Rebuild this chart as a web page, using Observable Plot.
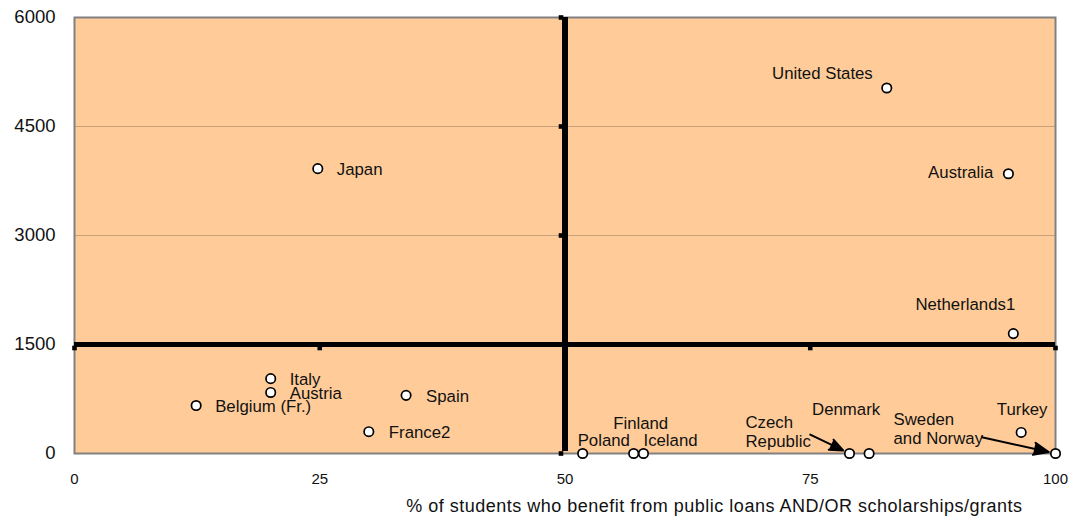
<!DOCTYPE html>
<html>
<head>
<meta charset="utf-8">
<script src="https://cdn.jsdelivr.net/npm/d3@7"></script>
<script src="https://cdn.jsdelivr.net/npm/@observablehq/plot@0.6"></script>
<style>
  html, body { margin: 0; padding: 0; background: #ffffff; }
  #chart svg { display: block; }
</style>
</head>
<body>
<div id="chart"></div>
<script>
// ---- Data ----
const countries = ["United States", "Australia", "Japan", "Netherlands1", "Italy", "Austria",
  "Belgium (Fr.)", "Spain", "France2", "Turkey", "Poland", "Finland", "Iceland",
  "Czech Republic", "Denmark", "Sweden and Norway"];
const pctStudents = [82.8, 95.2, 24.8, 95.7, 20, 20, 12.4, 33.8, 30, 96.5, 51.8, 57, 58, 79, 81, 100];
const tuitionFees = [5030, 3850, 3920, 1650, 1030, 840, 660, 800, 300, 290, 0, 0, 0, 0, 0, 0];
const labelText = ["United States", "Australia", "Japan", "Netherlands1", "Italy", "Austria",
  "Belgium (Fr.)", "Spain", "France2", "Turkey", "Poland", "Finland", "Iceland",
  "Czech\nRepublic", "Denmark", "Sweden\nand Norway"];

const xTicks = [0, 25, 50, 75, 100];
const yTicks = [0, 1500, 3000, 4500, 6000];
const gridY = [1500, 3000, 4500];
const xDivider = 50;
const yDivider = 1500;
const xTitle = "% of students who benefit from public loans AND/OR scholarships/grants";

// arrows (annotation, data units): from label to point
const arrowFromX = [75.0, 92.5];
const arrowFromY = [260, 225];
const arrowToX = [79, 100];
const arrowToY = [0, 0];

// ---- Derived tables ----
const points = countries.map((c, i) => ({country: c, x: pctStudents[i], y: tuitionFees[i], label: labelText[i]}));
const arrows = arrowFromX.map((d, i) => ({x1: d, y1: arrowFromY[i], x2: arrowToX[i], y2: arrowToY[i]}));

// label placement (layout, not data)
const labelLayout = {
  "United States": ["end", -14, -15],
  "Australia": ["end", -15, -2],
  "Japan": ["start", 19, 0],
  "Netherlands1": ["middle", -48, -30],
  "Italy": ["start", 19, 0],
  "Austria": ["start", 19, 0],
  "Belgium (Fr.)": ["start", 19, 0],
  "Spain": ["start", 20, 0],
  "France2": ["start", 20, 0],
  "Turkey": ["middle", 1, -24],
  "Poland": ["start", -5, -14],
  "Finland": ["middle", 7, -31],
  "Iceland": ["start", 0, -14],
  "Czech Republic": ["start", -104, -22],
  "Denmark": ["middle", -23, -45],
  "Sweden and Norway": ["start", -162, -25]
};

const font = "'Liberation Sans', Arial, Helvetica, sans-serif";

const labelMarks = points.map(p => {
  const [anchor, dx, dy] = labelLayout[p.country];
  return Plot.text([p], {x: "x", y: "y", text: "label", textAnchor: anchor, dx, dy,
    fontSize: 16.8, fill: "#111", lineHeight: 1.15, clip: false});
});

const chart = Plot.plot({
  width: 1073,
  height: 527,
  marginLeft: 74,
  marginRight: 18,
  marginTop: 17,
  marginBottom: 74,
  style: {fontFamily: font, background: "#ffffff", overflow: "visible"},
  x: {domain: [0, 100]},
  y: {domain: [0, 6000]},
  marks: [
    Plot.frame({fill: "#FFCC99", stroke: "none"}),
    Plot.ruleY(gridY, {stroke: "#C9A07C", strokeWidth: 1.2}),
    Plot.frame({stroke: "#808080", strokeWidth: 2}),
    Plot.ruleX([xDivider], {stroke: "#000", strokeWidth: 6, y1: 0, y2: 6000, insetTop: -2}),
    Plot.ruleY([yDivider], {stroke: "#000", strokeWidth: 5, x1: 0, x2: 100}),
    // small tick marks on the divider axes
    Plot.dot(yTicks, {x: () => xDivider, y: d => d, symbol: "square", r: 2.6, fill: "#000", dx: -4}),
    Plot.dot(xTicks, {x: d => d, y: () => yDivider, symbol: "square", r: 2.6, fill: "#000", dy: 3.5}),
    Plot.axisY(yTicks, {tickSize: 0, tickPadding: 19, fontSize: 18.5, label: null, fill: "#111", tickFormat: d => String(d)}),
    Plot.axisX(xTicks, {tickSize: 0, tickPadding: 20, fontSize: 15, label: null, fill: "#111", tickFormat: d => String(d)}),
    Plot.text([xTitle], {frameAnchor: "bottom-right", textAnchor: "end", dx: -33, dy: 58, fontSize: 18, fill: "#111"}),
    Plot.arrow(arrows, {x1: "x1", y1: "y1", x2: "x2", y2: "y2", stroke: "#000", fill: "#000", strokeWidth: 2,
      headLength: 12, headAngle: 45, insetEnd: 7, bend: false}),
    Plot.dot(points, {x: "x", y: "y", r: 4.7, fill: "#fff", stroke: "#000", strokeWidth: 1.7, clip: false}),
    ...labelMarks
  ]
});

// apply letter spacing on the x title text
chart.querySelectorAll("text").forEach(t => {
  if (t.textContent === xTitle) t.setAttribute("letter-spacing", "0.5");
});

document.getElementById("chart").appendChild(chart);
</script>
</body>
</html>
